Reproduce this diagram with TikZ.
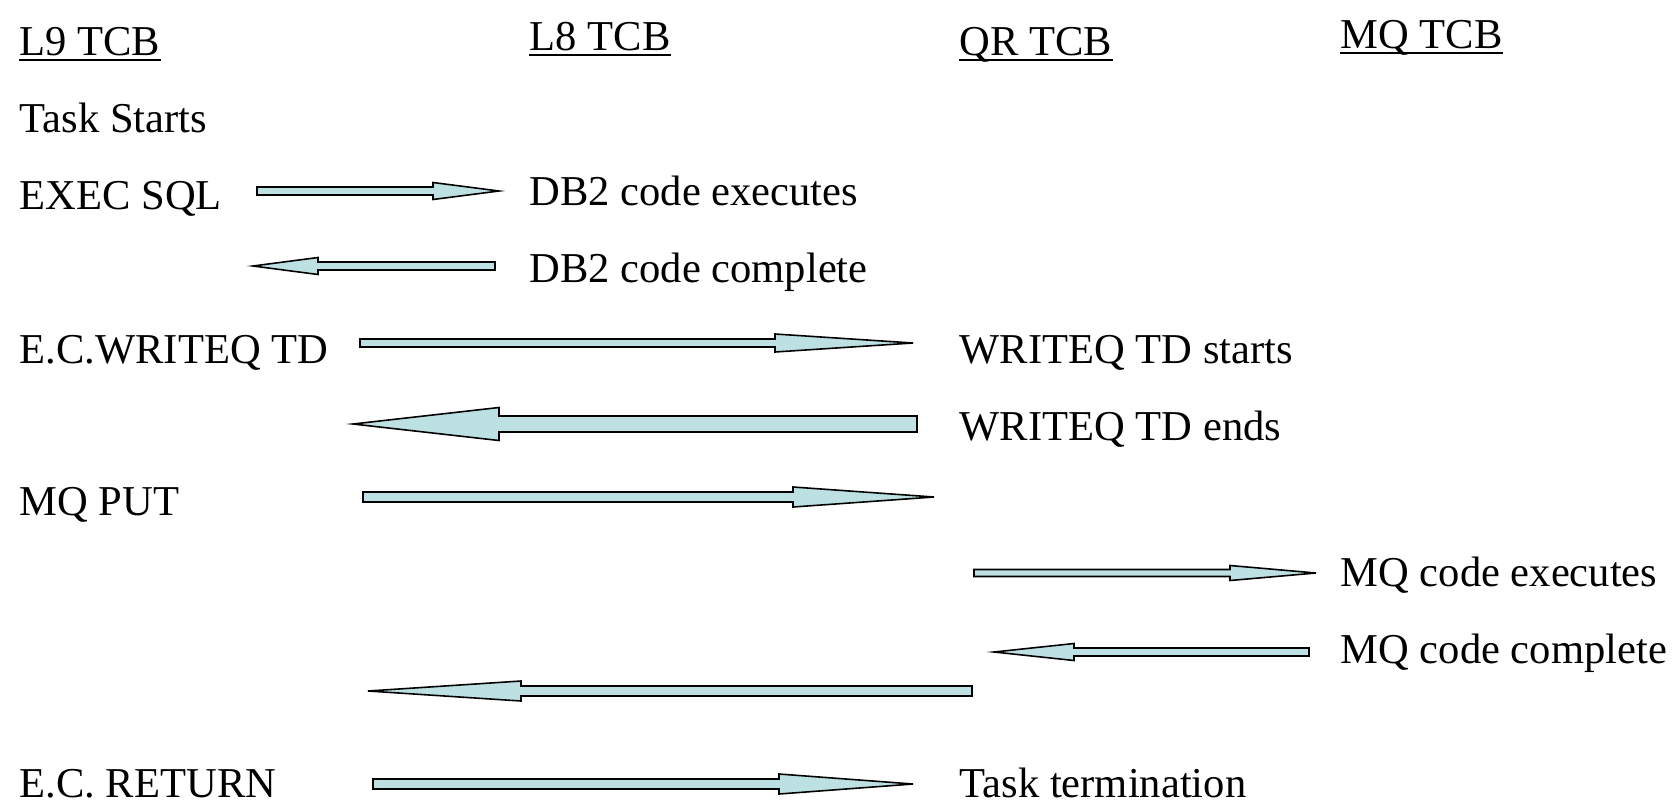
\documentclass[tikz,border=0pt]{standalone}
\usepackage{fontspec}
\setmainfont{Liberation Serif}
\usepackage{xcolor}
\definecolor{arrowfill}{HTML}{BDE0E3}

% flecha de bloque: x cola, x punta, y, grosor, alto punta, largo punta
\newcommand{\blockarrow}[6]{%
  \pgfmathsetmacro{\arrowbase}{#2-sign(#2-#1)*#6}
  \draw[barrow] (#1,{#3-#4/2}) -- (\arrowbase,{#3-#4/2}) -- (\arrowbase,{#3-#5/2})
    -- (#2,#3) -- (\arrowbase,{#3+#5/2}) -- (\arrowbase,{#3+#4/2}) -- (#1,{#3+#4/2}) -- cycle;
}

\begin{document}
\begin{tikzpicture}[x=0.01cm,y=-0.01cm,
    lbl/.style={anchor=base west,inner sep=0pt,font=\fontsize{12.1}{14}\selectfont},
    uline/.style={line width=0.6pt},
    barrow/.style={draw=black,line width=0.45pt,fill=arrowfill,line join=miter}]
    \useasboundingbox (0,0) rectangle (1680,800);

    % Cabeceras
    \node[lbl] (l9) at (19,55) {L9 TCB};
    \node[lbl] (l8) at (529,50) {L8 TCB};
    \node[lbl] (qr) at (959,55) {QR TCB};
    \node[lbl] (mq) at (1340,48) {MQ TCB};
    \foreach \n in {l9,l8,qr,mq}
      \draw[uline] ([yshift=-1.5pt]\n.base west) -- ([yshift=-1.5pt]\n.base east);

    % Columna L9
    \node[lbl] (taskstart) at (19,132) {Task Starts};
    \node[lbl] (execsql) at (19,209) {EXEC SQL};
    \node[lbl] (writeq) at (19,363) {E.C.WRITEQ TD};
    \node[lbl] (mqput) at (19,515) {MQ PUT};
    \node[lbl] (ecreturn) at (19,797) {E.C. RETURN};

    % Columnas L8, QR y MQ
    \node[lbl] (db2exec) at (529,205) {DB2 code executes};
    \node[lbl] (db2done) at (529,282) {DB2 code complete};
    \node[lbl] (wqstart) at (959,363) {WRITEQ TD starts};
    \node[lbl] (wqend) at (959,440) {WRITEQ TD ends};
    \node[lbl] (mqexec) at (1340,586) {MQ code executes};
    \node[lbl] (mqdone) at (1340,663) {MQ code complete};
    \node[lbl] (taskend) at (959,797) {Task termination};

    % Flechas
    \blockarrow{257}{499}{191}{8}{17}{66}
    \blockarrow{495}{253}{266}{8}{17}{65}
    \blockarrow{360}{913}{343}{8}{18}{138}
    \blockarrow{917}{353}{424}{16}{33}{146}
    \blockarrow{363}{934}{497}{10}{20}{141}
    \blockarrow{974}{1316}{573}{7}{15}{86}
    \blockarrow{1309}{994}{652}{8}{17}{80}
    \blockarrow{972}{368}{691}{10}{20}{153}
    \blockarrow{373}{913}{784}{10}{20}{134}
\end{tikzpicture}
\end{document}
